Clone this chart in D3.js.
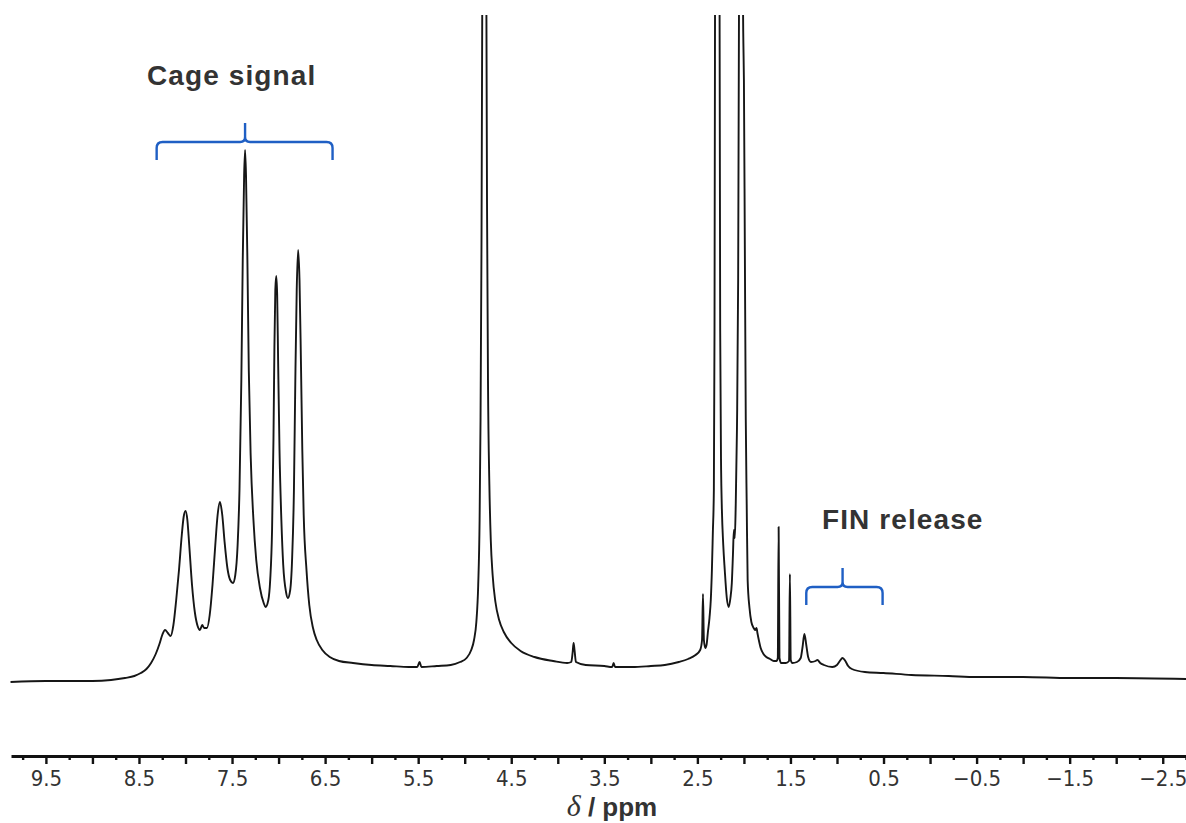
<!DOCTYPE html>
<html>
<head>
<meta charset="utf-8">
<script src="https://cdn.jsdelivr.net/npm/d3@7"></script>
<style>
  html, body { margin: 0; padding: 0; background: #ffffff; }
  svg { display: block; }
</style>
</head>
<body>
<svg id="chart" width="1186" height="823"></svg>
<script>
// 1H NMR trace: chemical shift (ppm) and intensity (arbitrary units above baseline)
const shiftPpm = [
  9.88, 9.5, 9.0, 8.8, 8.65, 8.55, 8.48, 8.42, 8.37, 8.32, 8.28, 8.25, 8.22, 8.19, 8.16, 8.13,
  8.10, 8.07, 8.04, 8.02, 8.00, 7.98, 7.96, 7.93, 7.90, 7.87, 7.845, 7.82, 7.80, 7.77, 7.74, 7.71,
  7.68, 7.655, 7.63, 7.605, 7.58, 7.55, 7.52, 7.49, 7.465, 7.44, 7.42, 7.40, 7.385, 7.37, 7.36, 7.35,
  7.335, 7.32, 7.30, 7.27, 7.24, 7.20, 7.16, 7.14, 7.11, 7.09, 7.07, 7.055, 7.045, 7.035, 7.025, 7.015,
  7.005, 6.99, 6.97, 6.95, 6.92, 6.90, 6.875, 6.855, 6.835, 6.82, 6.805, 6.79, 6.775, 6.76, 6.745, 6.73,
  6.70, 6.67, 6.63, 6.59, 6.53, 6.45, 6.35, 6.2, 6.0, 5.8, 5.6, 5.51, 5.485, 5.465, 5.3, 5.15,
  5.05, 4.98, 4.93, 4.90, 4.875, 4.855, 4.84, 4.83, 4.82, 4.81, 4.80, 4.79, 4.78, 4.77, 4.76, 4.75,
  4.735, 4.72, 4.70, 4.67, 4.63, 4.58, 4.5, 4.4, 4.25, 4.05, 3.9, 3.855, 3.84, 3.83, 3.82, 3.805,
  3.7, 3.5, 3.415, 3.40, 3.385, 3.2, 3.0, 2.85, 2.7, 2.6, 2.52, 2.47, 2.45, 2.44, 2.43, 2.415,
  2.40, 2.388, 2.37, 2.356, 2.344, 2.334, 2.323, 2.316, 2.31, 2.30, 2.286, 2.272, 2.262, 2.255, 2.245, 2.238,
  2.222, 2.206, 2.184, 2.163, 2.145, 2.13, 2.118, 2.108, 2.098, 2.088, 2.075, 2.062, 2.052, 2.04, 2.028, 2.018,
  2.012, 2.006, 2.0, 1.99, 1.98, 1.97, 1.96, 1.94, 1.92, 1.895, 1.88, 1.865, 1.855, 1.84, 1.82, 1.79,
  1.76, 1.72, 1.68, 1.65, 1.636, 1.627, 1.618, 1.60, 1.55, 1.515, 1.506, 1.497, 1.48, 1.43, 1.39, 1.37,
  1.35, 1.33, 1.31, 1.28, 1.23, 1.21, 1.18, 1.14, 1.05, 1.00, 0.97, 0.94, 0.91, 0.88, 0.84, 0.7,
  0.5, 0.2, -0.2, -0.5, -1.0, -1.5, -2.0, -2.75
];
const intensity = [
  -2, -1, -1, 0, 2, 4, 7, 11, 17, 26, 36, 45, 50, 47, 44, 55,
  80, 110, 145, 163, 169, 160, 135, 95, 68, 54, 50, 55, 52, 52, 65, 95,
  135, 165, 178, 165, 138, 112, 100, 97, 105, 135, 190, 300, 420, 505, 530, 505,
  420, 310, 225, 160, 120, 92, 77, 73, 80, 100, 150, 240, 330, 390, 404, 385,
  320, 230, 160, 115, 88, 82, 90, 120, 190, 300, 390, 430, 400, 320, 230, 165,
  110, 75, 52, 40, 30, 23, 19, 17, 15, 14, 13, 13, 18, 13, 14, 15,
  18, 22, 30, 40, 58, 95, 160, 260, 430, 720, 1300, 1700, 1300, 760, 470, 300,
  195, 140, 105, 78, 60, 48, 37, 29, 23, 19, 17, 18, 28, 37, 30, 18,
  15, 14, 13, 17, 13, 13, 14, 15, 18, 21, 25, 30, 40, 86, 40, 32,
  36, 47, 62, 80, 110, 147, 190, 350, 700, 1400, 1800, 1400, 700, 350, 210, 175,
  135, 110, 82, 73, 82, 97, 125, 150, 142, 175, 250, 400, 700, 1400, 1800, 1000,
  700, 638, 600, 430, 260, 175, 100, 72, 58, 52, 50, 52, 47, 40, 32, 26,
  23, 21, 19, 19, 22, 153, 22, 17, 17, 19, 106, 20, 17, 18, 22, 33,
  46, 35, 23, 18, 19, 20, 17, 15, 13, 15, 19, 22, 19, 14, 11, 8,
  7, 5, 4, 3, 3, 2, 2, 1
];

// Axis ticks
const labelTicks = [9.5, 8.5, 7.5, 6.5, 5.5, 4.5, 3.5, 2.5, 1.5, 0.5, -0.5, -1.5, -2.5];
const tickLabels = ["9.5", "8.5", "7.5", "6.5", "5.5", "4.5", "3.5", "2.5", "1.5", "0.5", "\u22120.5", "\u22121.5", "\u22122.5"];
const integerTicks = [9, 8, 7, 6, 5, 4, 3, 2, 1, 0, -1, -2];
const minorTicks = [9.75, 9.25, 8.75, 8.25, 7.75, 7.25, 6.75, 6.25, 5.75, 5.25, 4.75, 4.25, 3.75, 3.25,
  2.75, 2.25, 1.75, 1.25, 0.75, 0.25, -0.25, -0.75, -1.25, -1.75, -2.25, -2.75];

// Region annotations: [start ppm, centre ppm, end ppm, level]
const bracketNames = ["Cage signal", "FIN release"];
const bracketSpans = [[8.31, 7.36, 6.42, 538], [1.33, 0.94, 0.51, 93]];

const svg = d3.select("#chart");
const W = 1186, H = 823;

const x = d3.scaleLinear().domain([9.875, -2.75]).range([11, 1186]);
const y = d3.scaleLinear().domain([0, 665]).range([680, 15]);

svg.append("rect").attr("width", W).attr("height", H).attr("fill", "#fff");

svg.append("clipPath").attr("id", "plotClip")
  .append("rect").attr("x", 0).attr("y", 15).attr("width", W).attr("height", 720);

const points = shiftPpm.map((p, i) => [p, intensity[i]]);
const line = d3.line()
  .x(d => x(d[0]))
  .y(d => y(d[1]))
  .curve(d3.curveMonotoneX);

svg.append("path")
  .attr("clip-path", "url(#plotClip)")
  .attr("d", line(points))
  .attr("fill", "none")
  .attr("stroke", "#161616")
  .attr("stroke-width", 1.9)
  .attr("stroke-linejoin", "round");

// Curly brackets over the signal regions
const drop = 18, rise = 19, r = 6;
bracketSpans.forEach(([a, m, b, lvl]) => {
  const x0 = x(a), xm = x(m), x1 = x(b), yl = y(lvl);
  const p = d3.path();
  p.moveTo(x0, yl + drop);
  p.lineTo(x0, yl + r);
  p.quadraticCurveTo(x0, yl, x0 + r, yl);
  p.lineTo(xm - 5, yl);
  p.quadraticCurveTo(xm, yl, xm, yl - 5);
  p.lineTo(xm, yl - rise);
  p.moveTo(xm, yl - 5);
  p.quadraticCurveTo(xm, yl, xm + 5, yl);
  p.lineTo(x1 - r, yl);
  p.quadraticCurveTo(x1, yl, x1, yl + r);
  p.lineTo(x1, yl + drop);
  svg.append("path")
    .attr("d", p.toString())
    .attr("fill", "none")
    .attr("stroke", "#1f5fc4")
    .attr("stroke-width", 2.4)
    .attr("stroke-linecap", "butt");
});

// Region labels
const labelPos = [[147, 85], [822, 529]];
bracketNames.forEach((t, i) => {
  svg.append("text")
    .attr("x", labelPos[i][0]).attr("y", labelPos[i][1])
    .attr("font-family", "'Liberation Sans', Arial, sans-serif")
    .attr("font-weight", "bold")
    .attr("font-size", 28)
    .attr("letter-spacing", 1.1)
    .attr("fill", "#333")
    .text(t);
});

// Chemical shift axis
const axisY = 756;
const gMinor = svg.append("g").attr("transform", `translate(0,${axisY})`)
  .call(d3.axisBottom(x).tickValues(minorTicks).tickSize(4).tickFormat(""));
const gInt = svg.append("g").attr("transform", `translate(0,${axisY})`)
  .call(d3.axisBottom(x).tickValues(integerTicks).tickSize(8).tickFormat(""));
const gMain = svg.append("g").attr("transform", `translate(0,${axisY})`)
  .call(d3.axisBottom(x).tickValues(labelTicks).tickSize(8).tickSizeOuter(0)
    .tickFormat((d, i) => tickLabels[i]).tickPadding(6));

gMinor.select(".domain").remove();
gInt.select(".domain").remove();
gMain.select(".domain").attr("stroke", "#111").attr("stroke-width", 2.8);
[gMinor, gInt, gMain].forEach(g => g.selectAll(".tick line").attr("stroke", "#111").attr("stroke-width", 2.4));
gMain.selectAll(".tick text")
  .attr("font-family", "'Liberation Sans Narrow', 'DejaVu Sans Condensed', 'Arial Narrow', sans-serif")
  .attr("font-size", 22)
  .attr("fill", "#333");

// Axis title
const title = svg.append("text")
  .attr("x", 612).attr("y", 816)
  .attr("text-anchor", "middle")
  .attr("fill", "#333");
title.append("tspan")
  .attr("font-family", "'Liberation Serif', 'Times New Roman', serif")
  .attr("font-style", "italic")
  .attr("font-size", 30)
  .text("\u03B4");
title.append("tspan")
  .attr("font-family", "'Liberation Sans', Arial, sans-serif")
  .attr("font-weight", "bold")
  .attr("font-size", 26)
  .text(" / ppm");
</script>
</body>
</html>
